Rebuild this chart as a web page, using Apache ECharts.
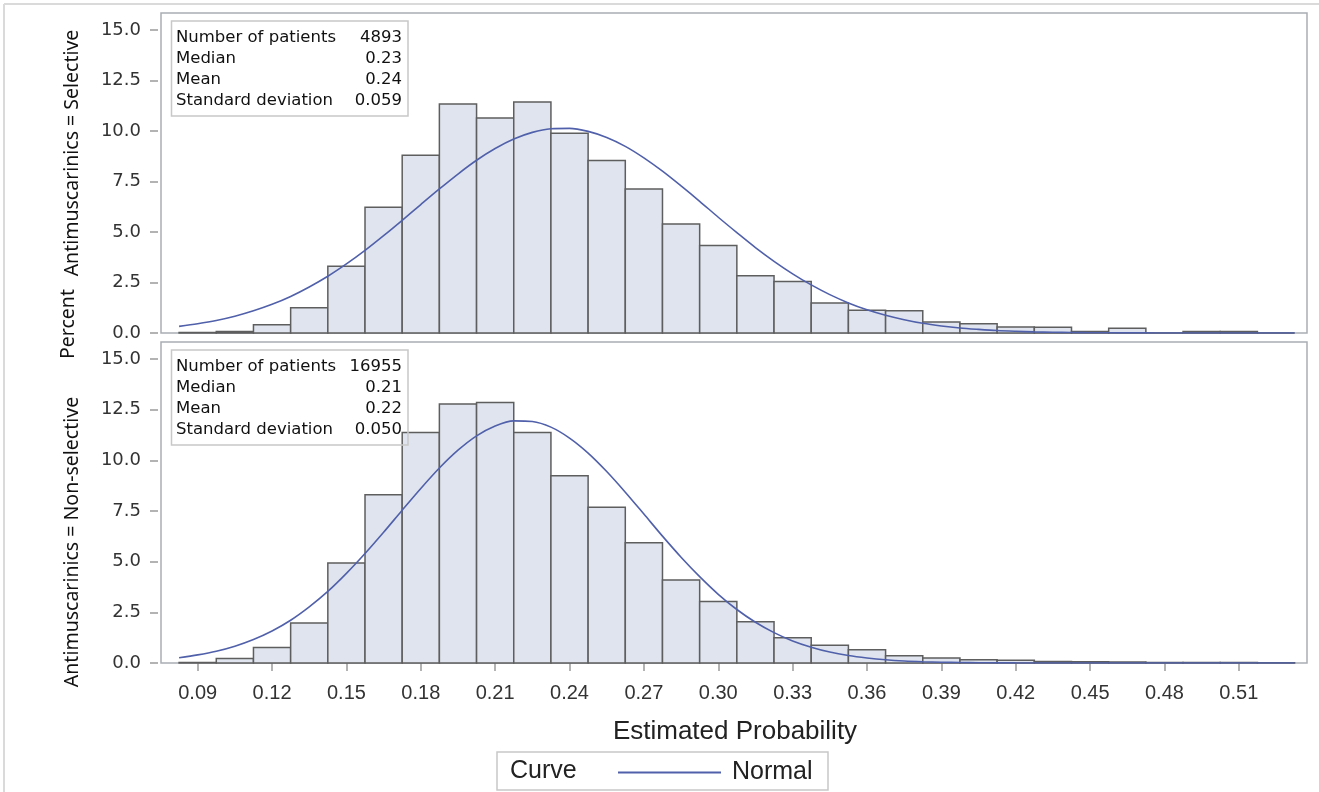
<!DOCTYPE html>
<html><head><meta charset="utf-8">
<script src="https://cdn.jsdelivr.net/npm/echarts@6/dist/echarts.min.js"></script>
<style>html,body{margin:0;padding:0;background:#fff}#c{width:1319px;height:792px}</style>
</head><body><div id="c"></div>
<script>
// ---- data ----
const binCenters = [0.09,0.105,0.12,0.135,0.15,0.165,0.18,0.195,0.21,0.225,0.24,0.255,0.27,0.285,0.30,0.315,0.33,0.345,0.36,0.375,0.39,0.405,0.42,0.435,0.45,0.465,0.48,0.495,0.51,0.525];
const binWidth = 0.015;
const selectivePct = [0.02,0.08,0.41,1.25,3.30,6.23,8.80,11.33,10.64,11.43,9.89,8.54,7.13,5.39,4.33,2.83,2.55,1.48,1.12,1.10,0.54,0.46,0.30,0.28,0.08,0.23,0,0.08,0.08,0];
const nonSelectivePct = [0.03,0.22,0.76,1.98,4.94,8.30,11.37,12.78,12.85,11.37,9.24,7.68,5.93,4.09,3.04,2.04,1.25,0.87,0.66,0.36,0.25,0.16,0.13,0.08,0.06,0.05,0.03,0.02,0.02,0.01];
const curveX = [0.0825,0.09,0.0975,0.105,0.1125,0.12,0.1275,0.135,0.1425,0.15,0.1575,0.165,0.1725,0.18,0.1875,0.195,0.2025,0.21,0.2175,0.225,0.2325,0.24,0.2475,0.255,0.2625,0.27,0.2775,0.285,0.2925,0.30,0.3075,0.315,0.3225,0.33,0.3375,0.345,0.3525,0.36,0.3675,0.375,0.3825,0.39,0.3975,0.405,0.4125,0.42,0.4275,0.435,0.4425,0.45,0.4575,0.465,0.4725,0.48,0.4875,0.495,0.5025,0.51,0.5175,0.525,0.5325];
const selectiveCurve = [0.33,0.46,0.62,0.83,1.10,1.42,1.81,2.28,2.81,3.42,4.09,4.82,5.58,6.36,7.13,7.87,8.55,9.13,9.60,9.93,10.11,10.13,9.98,9.68,9.24,8.67,8.01,7.28,6.52,5.73,4.97,4.23,3.55,2.93,2.38,1.90,1.49,1.15,0.88,0.66,0.48,0.35,0.25,0.18,0.12,0.083,0.055,0.036,0.024,0.015,0.009,0.006,0.004,0.002,0.001,0.001,0,0,0,0,0];
const nonSelectiveCurve = [0.26,0.40,0.58,0.83,1.16,1.58,2.11,2.77,3.53,4.42,5.40,6.45,7.54,8.61,9.62,10.50,11.21,11.70,11.95,11.92,11.64,11.10,10.36,9.45,8.43,7.35,6.26,5.22,4.26,3.39,2.64,2.01,1.50,1.09,0.78,0.54,0.37,0.25,0.16,0.10,0.063,0.039,0.023,0.013,0.008,0.004,0.002,0.001,0.001,0,0,0,0,0,0,0,0,0,0,0,0];
const xTicks = [0.09,0.12,0.15,0.18,0.21,0.24,0.27,0.30,0.33,0.36,0.39,0.42,0.45,0.48,0.51];
const yTicks = [0,2.5,5,7.5,10,12.5,15];
const statLabels = ['Number of patients','Median','Mean','Standard deviation'];
const selectiveStats = ['4893','0.23','0.24','0.059'];
const nonSelectiveStats = ['16955','0.21','0.22','0.050'];
const panelTitles = ['Antimuscarinics = Selective','Antimuscarinics = Non-selective'];
const yTitle = 'Percent';
const xTitle = 'Estimated Probability';
const legendTitle = 'Curve';
const curveName = 'Normal';

// ---- chart ----
const chart = echarts.init(document.getElementById('c'), null, {renderer:'canvas'});
const X_MIN = 0.0752, X_MAX = 0.5375, Y_MAX = 15.84;
const tickFont = 'DejaVu Sans';
const txtFont = 'Liberation Sans';

function renderBar(params, api){
  const x = api.value(0), y = api.value(1);
  const p0 = api.coord([x - binWidth/2, y]);
  const p1 = api.coord([x + binWidth/2, 0]);
  return {type:'rect', shape:{x:p0[0], y:p0[1], width:p1[0]-p0[0], height:p1[1]-p0[1]},
    style:{fill:'#dfe4ee', stroke:'#5e5e5e', lineWidth:1.5}};
}
function xAx(idx, showLabels){
  return {gridIndex:idx, type:'value', min:X_MIN, max:X_MAX, offset:3,
    axisLine:{show:false}, splitLine:{show:false},
    axisTick:{show:showLabels, customValues:xTicks, length:8, lineStyle:{color:'#9a9a9a', width:1.5}},
    axisLabel:{show:showLabels, customValues:xTicks, formatter:v=>v.toFixed(2), margin:17,
      fontFamily:txtFont, fontSize:20, color:'#333'}};
}
function yAx(idx){
  return {gridIndex:idx, type:'value', min:0, max:Y_MAX, offset:3,
    axisLine:{show:false}, splitLine:{show:false},
    axisTick:{customValues:yTicks, length:8, lineStyle:{color:'#9a9a9a', width:1.5}},
    axisLabel:{customValues:yTicks, formatter:v=>v.toFixed(1), margin:17,
      fontFamily:tickFont, fontSize:18, color:'#333'}};
}
function statBox(top, vals){
  const els = [{type:'rect', shape:{x:171.5, y:top, width:236.5, height:95},
    style:{fill:'rgba(0,0,0,0)', stroke:'#c8c8c8', lineWidth:1.5}, z:100}];
  statLabels.forEach((l,i)=>{
    const cy = top + 17 + i*21;
    els.push({type:'text', x:176, y:cy, z:101, style:{text:l, fontFamily:tickFont, fontSize:16.5, fill:'#111', textVerticalAlign:'middle', textAlign:'left'}});
    els.push({type:'text', x:402, y:cy, z:101, style:{text:vals[i], fontFamily:tickFont, fontSize:16.5, fill:'#111', textVerticalAlign:'middle', textAlign:'right'}});
  });
  return els;
}
const titleStyle = {fontFamily:'Noto Sans', fontSize:19.5, fill:'#111', textAlign:'center', textVerticalAlign:'middle'};

const option = {
  backgroundColor:'#fff',
  animation:false,
  grid:[
    {left:161, top:13, width:1146, height:320, show:true, borderColor:'#a9adb2', borderWidth:1.5, backgroundColor:'rgba(0,0,0,0)'},
    {left:161, top:342, width:1146, height:321, show:true, borderColor:'#a9adb2', borderWidth:1.5, backgroundColor:'rgba(0,0,0,0)'}
  ],
  xAxis:[xAx(0,false), xAx(1,true)],
  yAxis:[yAx(0), yAx(1)],
  legend:{data:[curveName], left:612, top:755, itemWidth:103, itemHeight:14,
    itemStyle:{opacity:0, borderWidth:0},
    textStyle:{fontFamily:txtFont, fontSize:25, color:'#222', padding:[0,0,0,6]}},
  series:[
    {type:'custom', name:'Selective', xAxisIndex:0, yAxisIndex:0, renderItem:renderBar,
      encode:{x:0,y:1}, data:binCenters.map((c,i)=>[c, selectivePct[i]]), z:2},
    {type:'custom', name:'Non-selective', xAxisIndex:1, yAxisIndex:1, renderItem:renderBar,
      encode:{x:0,y:1}, data:binCenters.map((c,i)=>[c, nonSelectivePct[i]]), z:2},
    {type:'line', name:curveName, xAxisIndex:0, yAxisIndex:0, smooth:0.3, symbol:'none',
      lineStyle:{color:'#5060aa', width:1.6}, itemStyle:{color:'#5060aa'},
      data:curveX.map((x,i)=>[x, selectiveCurve[i]]), z:5},
    {type:'line', name:curveName, xAxisIndex:1, yAxisIndex:1, smooth:0.3, symbol:'none',
      lineStyle:{color:'#5060aa', width:1.6}, itemStyle:{color:'#5060aa'},
      data:curveX.map((x,i)=>[x, nonSelectiveCurve[i]]), z:5}
  ],
  graphic:[
    {type:'line', shape:{x1:4, y1:4, x2:1319, y2:4}, style:{stroke:'#dadada', lineWidth:2}},
    {type:'line', shape:{x1:4, y1:4, x2:4, y2:792}, style:{stroke:'#dadada', lineWidth:2}},
    ...statBox(21, selectiveStats),
    ...statBox(350, nonSelectiveStats),
    {type:'text', x:72, y:153, rotation:Math.PI/2, style:Object.assign({text:panelTitles[0]}, titleStyle)},
    {type:'text', x:72, y:542, rotation:Math.PI/2, style:Object.assign({text:panelTitles[1]}, titleStyle)},
    {type:'text', x:68, y:324, rotation:Math.PI/2, style:Object.assign({text:yTitle}, titleStyle)},
    {type:'text', x:735, y:732, style:{text:xTitle, fontFamily:txtFont, fontSize:26, fill:'#222', textAlign:'center', textVerticalAlign:'middle'}},
    {type:'rect', shape:{x:497, y:752, width:331, height:38}, style:{fill:'rgba(0,0,0,0)', stroke:'#c8c8c8', lineWidth:1.5}},
    {type:'text', x:510, y:771, style:{text:legendTitle, fontFamily:txtFont, fontSize:25, fill:'#222', textAlign:'left', textVerticalAlign:'middle'}}
  ]
};
chart.setOption(option);
</script></body></html>
